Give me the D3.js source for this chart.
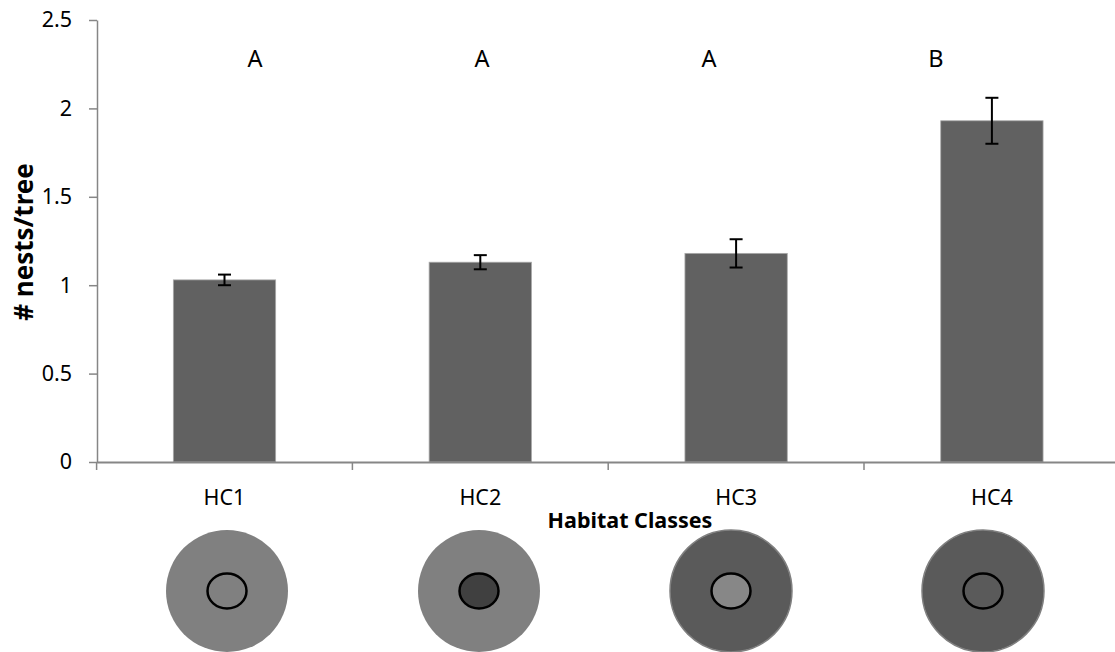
<!DOCTYPE html>
<html><head><meta charset="utf-8">
<script src="https://cdn.jsdelivr.net/npm/d3@7"></script>
<style>body{margin:0;background:#fff}svg{display:block}text{font-family:"Noto Sans",sans-serif}</style>
</head><body>
<svg id="c" width="1115" height="652"></svg>
<script>
const categories = ["HC1","HC2","HC3","HC4"];
const values = [1.03, 1.13, 1.18, 1.93];
const errors = [0.03, 0.04, 0.08, 0.13];
const letters = ["A","A","A","B"];
const yTicks = [0, 0.5, 1, 1.5, 2, 2.5];
const outerFill = ["#808080","#808080","#5a5a5a","#5a5a5a"];
const innerFill = ["#808080","#404040","#878787","#5a5a5a"];

const svg = d3.select("#c");
const x = d3.scaleBand().domain(categories).range([96.6, 1119.8]).paddingInner(0.6).paddingOuter(0.3);
const y = d3.scaleLinear().domain([0, 2.5]).range([462, 20]);
const step = x.step();

// bars
svg.append("g").selectAll("rect").data(values).join("rect")
  .attr("x", (d,i)=>x(categories[i])).attr("width", x.bandwidth())
  .attr("y", d=>y(d)).attr("height", d=>y(0)-y(d))
  .attr("fill","#616161").attr("stroke","#a8a8a8").attr("stroke-width",0.8);

// error bars
const eg = svg.append("g").attr("stroke","#000").attr("stroke-width",2);
values.forEach((v,i)=>{
  const cx = x(categories[i]) + x.bandwidth()/2;
  eg.append("line").attr("x1",cx).attr("x2",cx).attr("y1",y(v+errors[i])).attr("y2",y(v-errors[i]));
  [v+errors[i], v-errors[i]].forEach(e=>eg.append("line").attr("x1",cx-6.5).attr("x2",cx+6.5).attr("y1",y(e)).attr("y2",y(e)));
});

// y axis
const ya = svg.append("g").attr("transform","translate(97,0)")
  .call(d3.axisLeft(y).tickValues(yTicks).tickSize(8).tickSizeOuter(0).tickFormat(d3.format("")));
ya.select(".domain").attr("stroke","#868686").attr("stroke-width",1.5);
ya.selectAll(".tick line").attr("stroke","#868686").attr("stroke-width",1.5);
ya.selectAll(".tick text").attr("x",-25).attr("font-size",21.5).attr("fill","#000").attr("font-family","Noto Sans");

// x axis
const xa = svg.append("g").attr("transform","translate(0,462)")
  .call(d3.axisBottom(x).tickSize(0).tickSizeOuter(0));
xa.select(".domain").attr("stroke","#868686").attr("stroke-width",2);
xa.selectAll(".tick text").attr("y",43).attr("dy",0).attr("font-size",21.5).attr("fill","#000").attr("font-family","Noto Sans");
const bounds = d3.range(categories.length+1);
svg.append("g").selectAll("line").data(bounds).join("line")
  .attr("x1",d=>x.range()[0]+d*step).attr("x2",d=>x.range()[0]+d*step)
  .attr("y1",462).attr("y2",470).attr("stroke","#868686").attr("stroke-width",1.5);

// significance letters
const lx = d3.scalePoint().domain(categories).range([255, 936]);
svg.append("g").selectAll("text").data(letters).join("text")
  .attr("x",(d,i)=>lx(categories[i])).attr("y",67).attr("text-anchor","middle")
  .attr("font-size",23.5).attr("fill","#000").text(d=>d);

// axis titles
svg.append("text").attr("x",630).attr("y",528).attr("text-anchor","middle")
  .attr("font-size",21.5).attr("font-weight","bold").text("Habitat Classes");
svg.append("text").attr("transform","translate(33,242) rotate(-90)").attr("text-anchor","middle")
  .attr("font-size",26).attr("font-weight","bold").text("# nests/tree");

// habitat icons
const cxs = d3.scalePoint().domain(categories).range([227, 983]);
const ig = svg.append("g");
categories.forEach((c,i)=>{
  ig.append("circle").attr("cx",cxs(c)).attr("cy",591).attr("r",61)
    .attr("fill",outerFill[i]).attr("stroke", i>=2 ? "#808080" : "none").attr("stroke-width",1.5);
  ig.append("ellipse").attr("cx",cxs(c)).attr("cy",591).attr("rx",19.5).attr("ry",17.5)
    .attr("fill",innerFill[i]).attr("stroke","#000").attr("stroke-width",2.5);
});
</script>
</body></html>
